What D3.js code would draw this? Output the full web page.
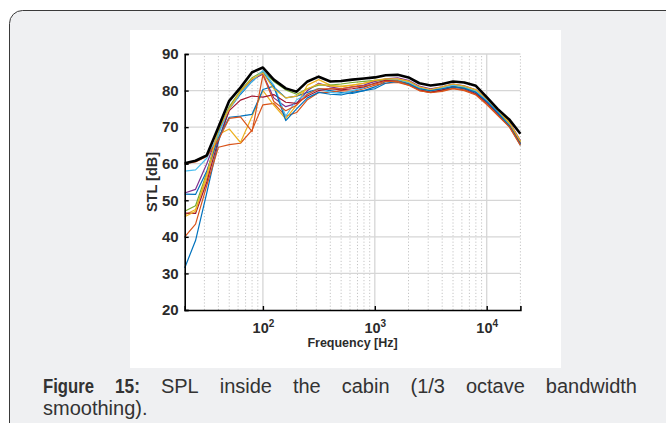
<!DOCTYPE html>
<html>
<head>
<meta charset="utf-8">
<script src="https://cdn.jsdelivr.net/npm/d3@7"></script>
<style>
  body { margin: 0; background: #fff; }
  svg { display: block; }
</style>
</head>
<body>
<script>
const WIDTH = 666;
const HEIGHT = 423;

// 1/3 octave centre frequencies [Hz]
const freqs = [20, 25, 31.5, 40, 50, 63, 80, 100, 125, 160, 200, 250, 315, 400, 500, 630, 800,
               1000, 1250, 1600, 2000, 2500, 3150, 4000, 5000, 6300, 8000, 10000, 12500, 16000, 20000];

// measurement positions (MATLAB colour order, cycling)
const pos1  = [31.5, 39, 52, 66, 75, 79, 82.5, 85, 81, 78, 78.5, 79.5, 80.5, 80, 79.5, 79.2, 80, 81, 82.5, 82.8, 82, 80.8, 80, 80.5, 81.2, 80.6, 79.6, 77, 74, 70.5, 65.5];
const pos2  = [40, 43.5, 54, 64.5, 65.2, 65.6, 69.2, 76.1, 76.5, 73, 74, 77.5, 79.5, 79.5, 80, 79.8, 80.5, 81.5, 82, 82.2, 81.5, 80, 79.5, 80, 80.6, 80.2, 79, 76.5, 73.5, 70, 65.2];
const pos3  = [46, 47.5, 56, 68, 69.5, 65.8, 73, 80, 76, 72.3, 76, 81.5, 83, 81.5, 81, 81.5, 82, 82.5, 83, 83, 82.5, 81, 80.2, 80.8, 81.5, 81, 80, 77.5, 74.5, 71, 66];
const pos4  = [52, 53, 60, 68.5, 75.3, 79.5, 83, 84.5, 78, 75.6, 76.5, 80, 82, 81, 80.5, 81, 81.5, 82.5, 83.2, 83.5, 82.8, 81.2, 80.5, 81, 81.8, 81.3, 80.2, 77.8, 74.8, 71.3, 66.3];
const pos5  = [47, 48.5, 57.5, 69, 75.6, 80, 83.5, 85.3, 82.5, 80.2, 79, 80.5, 81.5, 81.5, 81.8, 82.2, 82.5, 82.8, 83, 82.8, 82, 80.5, 79.6, 80.2, 81, 80.8, 79.8, 77.2, 74.2, 70.8, 65.8];
const pos6  = [58, 58.3, 61.5, 68, 75, 79.3, 82.5, 85.5, 81.5, 73, 77.5, 79, 80.5, 79.5, 79.2, 80, 80.8, 82, 82.8, 83, 82.2, 80.8, 80.2, 80.8, 81.5, 81, 79.9, 77.3, 74.2, 70.5, 65];
const pos7  = [46.5, 46.4, 55, 66.5, 74.5, 77.4, 78.5, 78.2, 78.9, 76.8, 76.5, 78.5, 80, 80.5, 80.2, 80.5, 81, 82, 82.8, 82.5, 81.8, 80.2, 79.5, 80.2, 81, 80.5, 79.2, 76.8, 73.8, 70.3, 65.5];
const pos8  = [51.7, 51.6, 58, 67, 72.7, 73, 73.5, 80.3, 81.2, 71.8, 75, 78, 79.5, 79, 78.8, 79.5, 80, 80.5, 82, 82.5, 81.8, 80.5, 80, 80.5, 81, 80.6, 79.5, 77, 74, 70.2, 65.3];
const pos9  = [60, 60.5, 62, 66.5, 72.4, 72.8, 68.8, 84.3, 77, 74.5, 76, 79, 80.5, 80.5, 80.5, 81, 81.3, 81.8, 82.5, 82.5, 81.5, 80, 79.4, 79.8, 80.5, 80, 78.8, 76.2, 73.2, 70, 65];
const pos10 = [45.5, 47, 57, 69.5, 75, 79.8, 83.2, 84.8, 80.5, 78, 78.5, 80.5, 81.8, 81.2, 81.2, 81.5, 82, 82.8, 83.2, 83.2, 82.6, 81, 80.3, 81, 81.8, 81.2, 80.2, 77.8, 74.8, 71.2, 66.2];
// overall (thick black)
const overall = [60.1, 60.8, 62.3, 70, 77.2, 80.8, 85, 86.3, 83, 80.6, 79.7, 82.5, 83.8, 82.5, 82.6, 83, 83.3, 83.6, 84.2, 84.3, 83.6, 82, 81.4, 81.8, 82.5, 82.2, 81.3, 78.2, 75, 72, 68.2];

const series = [pos1, pos2, pos3, pos4, pos5, pos6, pos7, pos8, pos9, pos10];
const colors = ['#0072BD', '#D95319', '#EDB120', '#7E2F8E', '#77AC30', '#4DBEEE', '#A2142F'];

const yTicks = [20, 30, 40, 50, 60, 70, 80, 90];
const xTicks = [100, 1000, 10000];

const svg = d3.select('body').append('svg')
  .attr('width', WIDTH)
  .attr('height', HEIGHT);

// outer figure box
svg.append('rect')
  .attr('x', 9.5).attr('y', 10.5)
  .attr('width', 720).attr('height', 440)
  .attr('rx', 13)
  .attr('fill', '#eff0f2')
  .attr('stroke', '#3a3a3a')
  .attr('stroke-width', 1);

// white image panel
svg.append('rect')
  .attr('x', 130).attr('y', 30)
  .attr('width', 431).attr('height', 338)
  .attr('fill', '#fff');

const x = d3.scaleLog().domain([20, 20000]).range([184.7, 520.4]);
const y = d3.scaleLinear().domain([20, 90]).range([310, 54]);

const plot = svg.append('g');

// minor x grid (dotted)
const minor = [];
for (let dec = 10; dec <= 10000; dec *= 10) {
  for (let k = 2; k <= 9; k++) {
    const f = dec * k;
    if (f > 20 && f <= 20000) minor.push(f);
  }
}
plot.selectAll('.minor').data(minor).join('line')
  .attr('x1', d => x(d)).attr('x2', d => x(d))
  .attr('y1', y(20)).attr('y2', y(90))
  .attr('stroke', '#c4c4c4')
  .attr('stroke-width', 1)
  .attr('stroke-dasharray', '1.2,2');

// major grid
plot.selectAll('.gx').data(xTicks).join('line')
  .attr('x1', d => x(d)).attr('x2', d => x(d))
  .attr('y1', y(20)).attr('y2', y(90))
  .attr('stroke', '#d6d6d6').attr('stroke-width', 1.3);
plot.selectAll('.gy').data(yTicks.slice(1)).join('line')
  .attr('x1', x(20)).attr('x2', x(20000))
  .attr('y1', d => y(d)).attr('y2', d => y(d))
  .attr('stroke', '#d6d6d6').attr('stroke-width', 1.3);

// data lines
const line = d3.line()
  .x((d, i) => x(freqs[i]))
  .y(d => y(d));

series.forEach((s, i) => {
  plot.append('path')
    .attr('d', line(s))
    .attr('fill', 'none')
    .attr('stroke', colors[i % colors.length])
    .attr('stroke-width', 1.2)
    .attr('stroke-linejoin', 'round');
});

plot.append('path')
  .attr('d', line(overall))
  .attr('fill', 'none')
  .attr('stroke', '#000')
  .attr('stroke-width', 2.6)
  .attr('stroke-linejoin', 'round');

// axes
const font = '"Liberation Sans", Arial, Helvetica, sans-serif';

const yAxis = svg.append('g')
  .attr('transform', `translate(${x(20)},0)`)
  .call(d3.axisLeft(y).tickValues(yTicks).tickSize(-4).tickPadding(6));
yAxis.select('.domain').attr('stroke', '#000').attr('stroke-width', 1.6);
yAxis.selectAll('.tick line').attr('stroke', '#000').attr('stroke-width', 1.4);
yAxis.selectAll('.tick text')
  .attr('font-family', font).attr('font-size', 15).attr('font-weight', 'bold')
  .attr('fill', '#2b2b2b');

const xAxis = svg.append('g')
  .attr('transform', `translate(0,${y(20)})`)
  .call(d3.axisBottom(x).tickValues(xTicks).tickSize(-4).tickFormat(''));
xAxis.select('.domain').attr('stroke', '#000').attr('stroke-width', 1.6);
xAxis.selectAll('.tick line').attr('stroke', '#000').attr('stroke-width', 1.4);

// decade labels with superscript exponent
xAxis.selectAll('.tick').each(function (d) {
  const t = d3.select(this).append('text')
    .attr('y', 23)
    .attr('text-anchor', 'middle')
    .attr('font-family', font).attr('font-size', 14.5).attr('font-weight', 'bold')
    .attr('fill', '#2b2b2b');
  t.append('tspan').text('10');
  t.append('tspan').attr('dy', -6.5).attr('font-size', 10).text(Math.round(Math.log10(d)));
});

svg.append('text')
  .attr('x', (x(20) + x(20000)) / 2).attr('y', 347)
  .attr('text-anchor', 'middle')
  .attr('font-family', font).attr('font-size', 12.5).attr('font-weight', 'bold')
  .attr('fill', '#2b2b2b')
  .text('Frequency [Hz]');

svg.append('text')
  .attr('transform', `translate(157,${(y(20) + y(90)) / 2}) rotate(-90)`)
  .attr('text-anchor', 'middle')
  .attr('font-family', font).attr('font-size', 14.5).attr('font-weight', 'bold')
  .attr('fill', '#2b2b2b')
  .text('STL [dB]');

// caption, first line justified by hand (bold words set a bit condensed)
const capFont = '"Liberation Sans", Arial, sans-serif';
const capSize = 20;
const words1 = [
  { t: 'Figure', b: 51 }, { t: '15:', b: 25 }, { t: 'SPL' }, { t: 'inside' }, { t: 'the' },
  { t: 'cabin' }, { t: '(1/3' }, { t: 'octave' }, { t: 'bandwidth' }
];
const capLeft = 43, capRight = 637;
const cap = svg.append('g')
  .attr('font-family', capFont).attr('font-size', capSize).attr('fill', '#333');

const nodes = words1.map(w => {
  const n = cap.append('text').attr('y', 393).text(w.t);
  if (w.b) {
    n.attr('font-weight', 'bold')
      .attr('textLength', w.b)
      .attr('lengthAdjust', 'spacingAndGlyphs');
  }
  return n;
});
const widths = words1.map((w, i) => w.b ? w.b : nodes[i].node().getComputedTextLength());
const gap = (capRight - capLeft - d3.sum(widths)) / (words1.length - 1);
let cx = capLeft;
nodes.forEach((n, i) => { n.attr('x', cx); cx += widths[i] + gap; });

cap.append('text').attr('x', capLeft).attr('y', 415).text('smoothing).');
</script>
</body>
</html>
